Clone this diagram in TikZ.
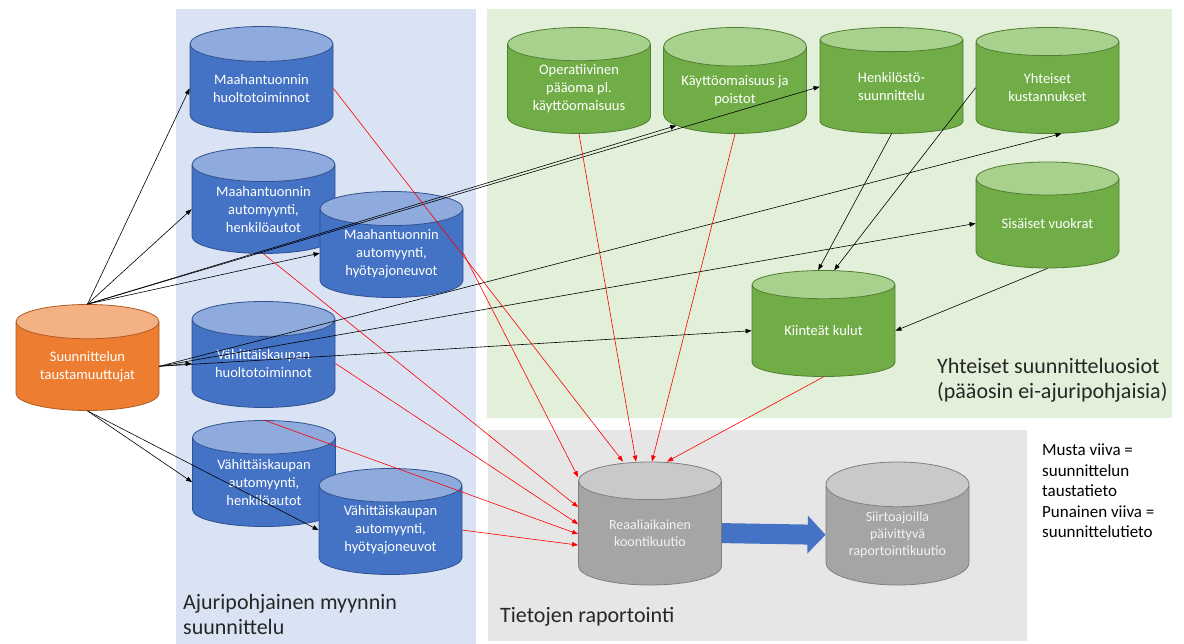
\documentclass[tikz,border=0pt]{standalone}
\usepackage{fontspec}
\setmainfont{Carlito}
\usetikzlibrary{shapes.geometric,arrows.meta}
\definecolor{bluebody}{HTML}{4472C4}
\definecolor{bluetop}{HTML}{8FAADC}
\definecolor{blueline}{HTML}{2F528F}
\definecolor{greenbody}{HTML}{70AD47}
\definecolor{greentop}{HTML}{A9D18E}
\definecolor{greenline}{HTML}{507E32}
\definecolor{orangebody}{HTML}{ED7D31}
\definecolor{orangetop}{HTML}{F4B183}
\definecolor{orangeline}{HTML}{AE5A21}
\definecolor{graybody}{HTML}{A5A5A5}
\definecolor{graytop}{HTML}{C9C9C9}
\definecolor{grayline}{HTML}{7F7F7F}
\definecolor{bluearea}{HTML}{DAE3F3}
\definecolor{greenarea}{HTML}{E2F0D9}
\definecolor{grayarea}{HTML}{E7E6E6}
\begin{document}
\begin{tikzpicture}[x=1pt,y=-1pt]
\tikzstyle{every node}+=[inner sep=0pt]
\tikzstyle{db}=[cylinder, shape border rotate=90, aspect=0.36, minimum width=143pt, minimum height=106pt, anchor=shape center, draw, line width=0.8pt, cylinder uses custom fill, align=center, text=white, font=\fontsize{14.5}{18}\selectfont]
\tikzstyle{dbblue}=[db, draw=blueline, cylinder body fill=bluebody, cylinder end fill=bluetop]
\tikzstyle{dbgreen}=[db, draw=greenline, cylinder body fill=greenbody, cylinder end fill=greentop]
\tikzstyle{dborange}=[db, draw=orangeline, cylinder body fill=orangebody, cylinder end fill=orangetop]
\tikzstyle{dbgray}=[db, minimum height=123pt, aspect=0.46, draw=grayline, cylinder body fill=graybody, cylinder end fill=graytop, text=white!95!black, font=\fontsize{14}{17}\selectfont]
\tikzstyle{blackline}=[black, line width=0.6pt, -{Triangle[length=6pt,width=4.5pt]}]
\tikzstyle{redline}=[red, line width=0.6pt, -{Triangle[length=6pt,width=4.5pt]}]
\tikzstyle{areatext}=[anchor=north west, align=left, text=black!85, font=\fontsize{22}{25}\selectfont]
\useasboundingbox (0,0) rectangle (1184,644);
\fill [bluearea] (176,9) rectangle (476,644);
\fill [greenarea] (487,9) rectangle (1172,418);
\fill [grayarea] (488,430) rectangle (1027,641);
\node [dborange] (or) at (87.5,357.5) {Suunnittelun\\taustamuuttujat};
\node [dbblue] (b1) at (261.5,79.5) {Maahantuonnin\\huoltotoiminnot};
\node [dbblue] (b2) at (263.5,200.5) {Maahantuonnin\\automyynti,\\henkilöautot};
\node [dbblue] (b3) at (391.5,244.5) {Maahantuonnin\\automyynti,\\hyötyajoneuvot};
\node [dbblue] (b4) at (263.5,354.5) {Vähittäiskaupan\\huoltotoiminnot};
\node [dbblue] (b5) at (264,473.5) {Vähittäiskaupan\\automyynti,\\henkilöautot};
\node [dbblue] (b6) at (390.5,521.5) {Vähittäiskaupan\\automyynti,\\hyötyajoneuvot};
\node [dbgreen] (g1) at (579,80.5) {Operatiivinen\\pääoma pl.\\käyttöomaisuus};
\node [dbgreen] (g2) at (735,80.5) {Käyttöomaisuus ja\\poistot};
\node [dbgreen] (g3) at (891.5,80.5) {Henkilöstö-\\suunnittelu};
\node [dbgreen] (g4) at (1047.5,80.5) {Yhteiset\\kustannukset};
\node [dbgreen] (g5) at (1047.5,215) {Sisäiset vuokrat};
\node [dbgreen] (g6) at (823.5,323.5) {Kiinteät kulut};
\node [dbgray] (r1) at (650,523.5) {Reaaliaikainen\\koontikuutio};
\node [dbgray] (r2) at (897.5,523.5) {Siirtoajoilla\\päivittyvä\\raportointikuutio};
\node [areatext] (myynti) at (183,594) {Ajuripohjainen myynnin\\suunnittelu};
\node [areatext] (yhteiset) at (937,358) {Yhteiset suunnitteluosiot\\(pääosin ei-ajuripohjaisia)};
\node [areatext] (raportointi) at (500,607) {Tietojen raportointi};
\node [anchor=north west, align=left, font=\fontsize{17}{20.5}\selectfont] (selite) at (1042,444) {Musta viiva =\\suunnittelun\\taustatieto\\Punainen viiva =\\suunnittelutieto};
\draw [bluebody, line width=20pt, -{Triangle[length=18pt,width=37pt]}] (r1.east) -- (r2.west);
\draw [blackline] (or.north) -- (b1.west);
\draw [blackline] (or.north) -- (b2.west);
\draw [blackline] (or.north) -- (b3.west);
\draw [blackline] (or.north) -- (g2.211);
\draw [blackline] (or.north) -- (g3.west);
\draw [blackline] (or.east) -- (b4.west);
\draw [blackline] (or.east) -- (g4.287);
\draw [blackline] (or.east) -- (g5.west);
\draw [blackline] (or.east) -- (g6.west);
\draw [blackline] (or.south) -- (b5.west);
\draw [blackline] (or.south) -- (b6.west);
\draw [blackline] (g3.south) -- (g6.95);
\draw [blackline] (g4.west) -- (g6.80);
\draw [blackline] (g5.south) -- (g6.east);
\draw [redline] (b1.east) -- ([xshift=-27pt]r1.north);
\draw [redline] (g1.south) -- ([xshift=-14pt]r1.north);
\draw [redline] (g2.south) -- ([xshift=2pt]r1.north);
\draw [redline] (g6.south) -- ([xshift=17pt]r1.north);
\draw [redline] (b3.east) -- ([yshift=56pt]r1.west);
\draw [redline] (b2.south) -- ([yshift=26pt]r1.west);
\draw [redline] (b4.east) -- ([yshift=9pt]r1.west);
\draw [redline] (b5.north) -- ([yshift=-1pt]r1.west);
\draw [redline] (b6.east) -- ([yshift=-12pt]r1.west);
\end{tikzpicture}
\end{document}
